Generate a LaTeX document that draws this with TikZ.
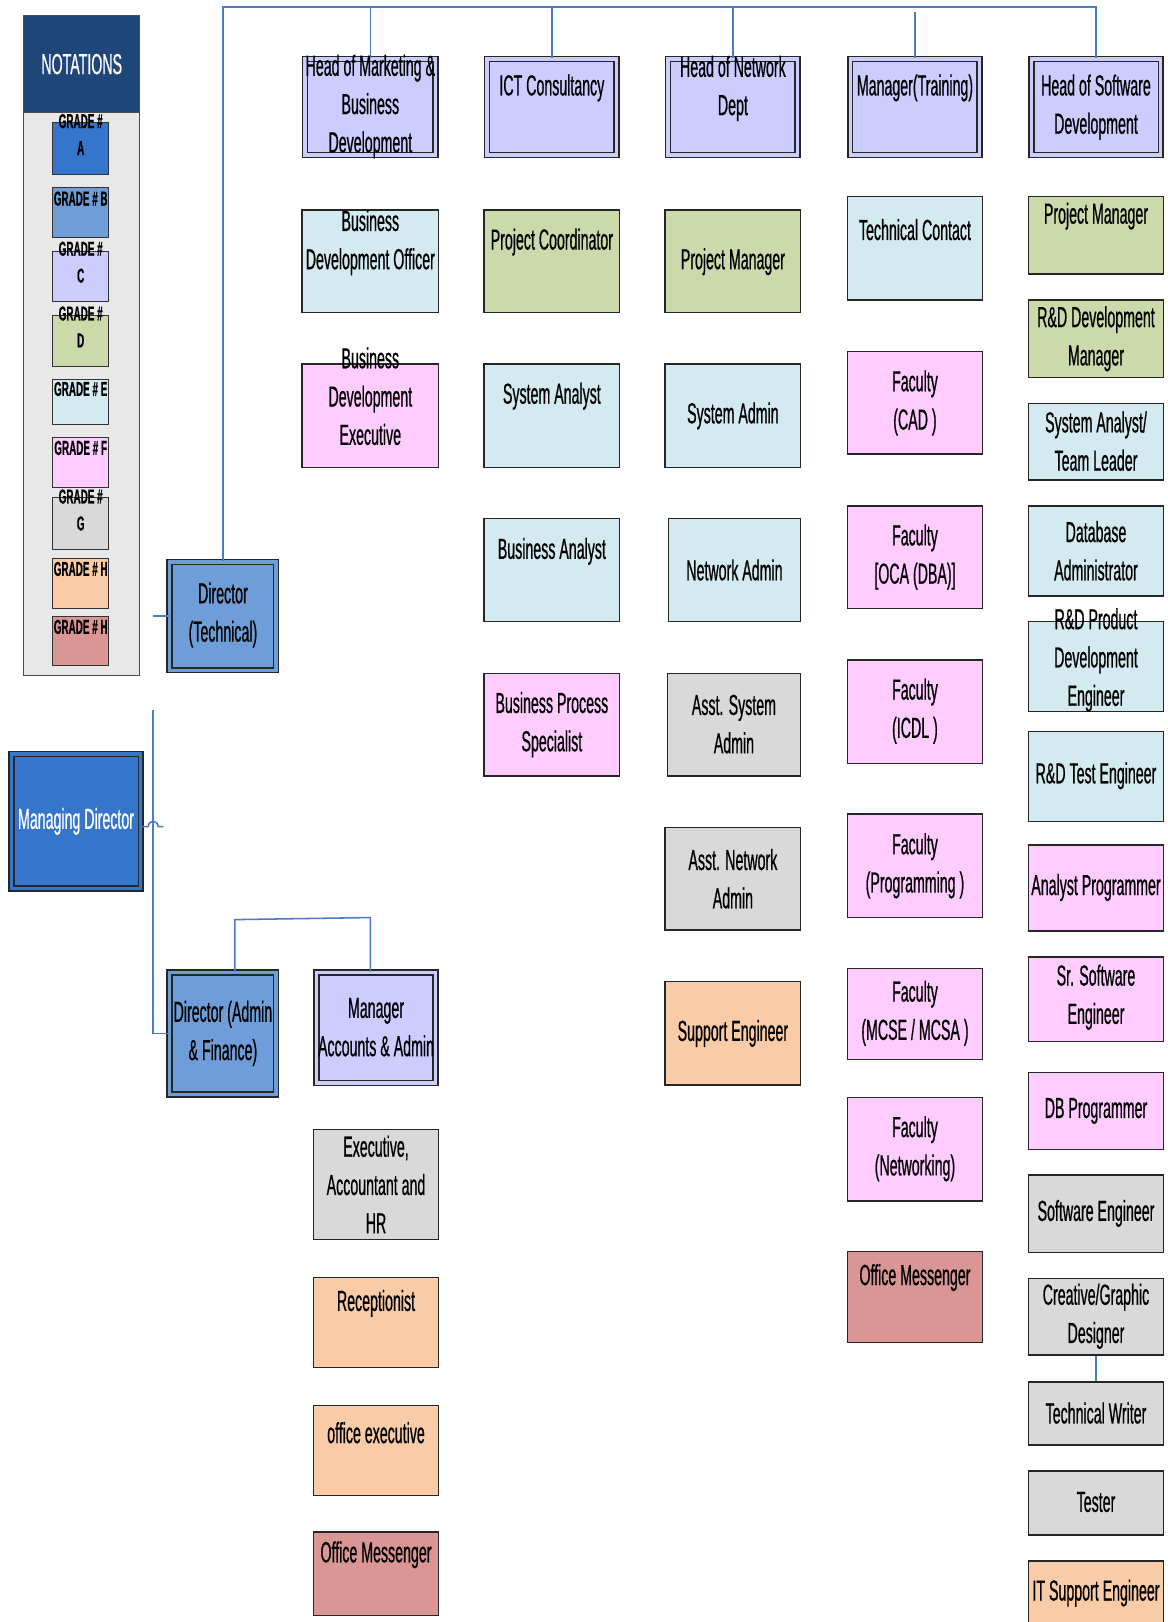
\documentclass[tikz,border=0pt]{standalone}
\usepackage{fontspec}
\newfontfamily\narrowfont[FakeStretch=0.49,FakeBold=0.6]{Liberation Sans}
\newcommand\nf{\narrowfont\fontsize{28}{37}\selectfont}
\newcommand\gf{\narrowfont\bfseries\fontsize{19.5}{26}\selectfont}
\definecolor{gA}{HTML}{3575CC}
\definecolor{gB}{HTML}{6F9DD8}
\definecolor{gC}{HTML}{CCCCFF}
\definecolor{gD}{HTML}{CCD9AA}
\definecolor{gE}{HTML}{D2EAF0}
\definecolor{gF}{HTML}{FFCCFF}
\definecolor{gG}{HTML}{D9D9D9}
\definecolor{gH}{HTML}{F9CBA6}
\definecolor{gHH}{HTML}{D99694}
\definecolor{navy}{HTML}{1F4679}
\definecolor{panelgray}{HTML}{E8E8E8}
\definecolor{lineblue}{HTML}{4A7CC8}
\def\bxshrink{0pt}
\tikzset{
  box/.style={rectangle, draw=black!85, line width=1.3pt, inner sep=0pt},
  dblc/.style={double=#1, double distance=3.5pt, line width=1.3pt, /utils/exec={\def\bxshrink{6pt}}},
  txt/.style={font=\nf, align=center, inner sep=0pt},
  gtxt/.style={font=\gf, align=center, inner sep=0pt},
  gbox/.style={rectangle, draw=black!80, line width=1pt, inner sep=0pt},
  conn/.style={draw=lineblue, line width=1.5pt}
}
% #1 extra, #2 name, #3 fill, #4 x1, #5 y1, #6 x2, #7 y2, #8 text y, #9 text
\newcommand\bx[9][]{%
  \node[box,fill=#3,#1,minimum width={(#6-#4)*1pt-\bxshrink},minimum height={(#7-#5)*1pt-\bxshrink}] (#2) at ({(#4+#6)/2},{(#5+#7)/2}) {};
  \node[txt] (#2t) at ({(#4+#6)/2},#8) {#9};}
% grade box: #1 name, #2 fill, #3 y1, #4 y2, #5 text y, #6 text
\newcommand\gbx[6]{%
  \node[gbox,fill=#2,minimum width=54pt,minimum height={(#4-#3)*1pt}] (#1) at (78,{(#3+#4)/2}) {};
  \node[gtxt] (#1t) at (78,#5) {#6};}
\begin{document}
\begin{tikzpicture}[x=1pt,y=-1pt]
\useasboundingbox[fill=white] (0,0) rectangle (1129,1568);

% ---------- notations panel ----------
\node[rectangle, draw=black!70, line width=1pt, fill=panelgray, minimum width=112pt, minimum height=638pt, inner sep=0pt] (notpanel) at (79,334) {};
\node[rectangle, draw=black!70, line width=1pt, fill=navy, minimum width=112pt, minimum height=94pt, inner sep=0pt] (nothead) at (79,62) {};
\node[txt, text=white] (nottext) at (79,62) {NOTATIONS};
\gbx{gradeA}{gA}{118}{169}{130}{GRADE \#\\A}
\gbx{gradeB}{gB}{181}{230}{192}{GRADE \# B}
\gbx{gradeC}{gC}{243}{291}{253.5}{GRADE \#\\C}
\gbx{gradeD}{gD}{305}{354}{316}{GRADE \#\\D}
\gbx{gradeE}{gE}{367}{410}{376}{GRADE \# E}
\gbx{gradeF}{gF}{423}{471}{433}{GRADE \# F}
\gbx{gradeG}{gG}{481}{531}{493}{GRADE \#\\G}
\gbx{gradeH}{gH}{540}{588}{550}{GRADE \# H}
\gbx{gradeHH}{gHH}{596}{643}{606}{GRADE \# H}

% ---------- directors ----------
\bx[dblc=gB]{DT}{gB}{161}{540}{270}{651}{594.5}{Director\\(Technical)}
\node[box,fill=gA,dblc=gA,minimum width=125pt,minimum height=130pt] (MD) at (73.5,794) {};
\node[txt,text=white] (MDt) at (73.5,794) {Managing Director};
\bx[dblc=gB]{DA}{gB}{161}{937}{270}{1061}{999}{Director (Admin\\\& Finance)}
\bx[dblc=gC]{MA}{gC}{303}{937}{424}{1050}{993}{Manager\\Accounts \& Admin}
\bx{EAH}{gG}{303}{1092}{424}{1198}{1145}{Executive,\\Accountant and\\HR}
\bx{REC}{gH}{303}{1235}{424}{1322}{1260}{Receptionist}
\bx{OE}{gH}{303}{1359}{424}{1446}{1385}{office executive}
\bx{OMa}{gHH}{303}{1481}{424}{1562}{1503}{Office Messenger}

% ---------- column 1 ----------
\bx[dblc=gC]{HM}{gC}{292}{54}{424}{153}{103}{Head of Marketing \&\\Business\\Development}
\bx{BDO}{gE}{292}{203}{424}{302}{234.5}{Business\\Development Officer}
\bx{BDE}{gF}{292}{352}{424}{452}{383}{Business\\Development\\Executive}

% ---------- column 2 ----------
\bx[dblc=gC]{ICT}{gC}{468}{54}{599}{153}{85}{ICT Consultancy}
\bx{PC}{gD}{468}{203}{599}{302}{234}{Project Coordinator}
\bx{SA}{gE}{468}{352}{599}{452}{383}{System Analyst}
\bx{BA}{gE}{468}{501}{599}{601}{533}{Business Analyst}
\bx{BPS}{gF}{468}{651}{599}{750}{700.5}{Business Process\\Specialist}

% ---------- column 3 ----------
\bx[dblc=gC]{HND}{gC}{643}{54}{774}{153}{85.5}{Head of Network\\Dept}
\bx{PMc}{gD}{643}{203}{774}{302}{253}{Project Manager}
\bx{SAd}{gE}{643}{352}{774}{452}{402}{System Admin}
\bx{NA}{gE}{646}{501}{774}{601}{551}{Network Admin}
\bx{ASA}{gG}{645}{651}{774}{750}{700}{Asst. System\\Admin}
\bx{ANA}{gG}{643}{800}{774}{899}{849.5}{Asst. Network\\Admin}
\bx{SE}{gH}{643}{949}{774}{1049}{999}{Support Engineer}

% ---------- column 4 ----------
\bx[dblc=gC]{MT}{gC}{819}{54}{950}{153}{85}{Manager(Training)}
\bx{TC}{gE}{819}{190}{950}{290}{222}{Technical Contact}
\bx{FCAD}{gF}{819}{340}{950}{439}{389.5}{Faculty\\(CAD )}
\bx{FOCA}{gF}{819}{489}{950}{588}{538.5}{Faculty\\{}[OCA (DBA)]}
\bx{FICDL}{gF}{819}{638}{950}{738}{687.5}{Faculty\\(ICDL )}
\bx{FPROG}{gF}{819}{787}{950}{887}{837}{Faculty\\(Programming )}
\bx{FMCSE}{gF}{819}{936}{950}{1024}{979.5}{Faculty\\(MCSE / MCSA )}
\bx{FNET}{gF}{819}{1061}{950}{1161}{1110.5}{Faculty\\(Networking)}
\bx{OMb}{gHH}{819}{1210}{950}{1298}{1235}{Office Messenger}

% ---------- column 5 ----------
\bx[dblc=gC]{HSD}{gC}{994}{54}{1125}{153}{103.5}{Head of Software\\Development}
\bx{PMe}{gD}{994}{190}{1125}{265}{209}{Project Manager}
\bx{RDM}{gD}{994}{290}{1125}{365}{327.5}{R\&D Development\\Manager}
\bx{SATL}{gE}{994}{390}{1125}{464}{426.5}{System Analyst/\\Team Leader}
\bx{DBA}{gE}{994}{489}{1125}{576}{532.5}{Database\\Administrator}
\bx{RDP}{gE}{994}{601}{1125}{688}{638}{R\&D Product\\Development\\Engineer}
\bx{RDT}{gE}{994}{707}{1125}{794}{750}{R\&D Test Engineer}
\bx{AP}{gF}{994}{817}{1125}{900}{858}{Analyst Programmer}
\bx{SSE}{gF}{994}{925}{1125}{1007}{964}{Sr. Software\\Engineer}
\bx{DBP}{gF}{994}{1037}{1125}{1111}{1074}{DB Programmer}
\bx{SWE}{gG}{994}{1136}{1125}{1211}{1173}{Software Engineer}
\bx{CGD}{gG}{994}{1236}{1125}{1310}{1272.5}{Creative/Graphic\\Designer}
\bx{TW}{gG}{994}{1336}{1125}{1397}{1366}{Technical Writer}
\bx{TS}{gG}{994}{1422}{1125}{1484}{1452}{Tester}
\bx{ITS}{gH}{994}{1509}{1125}{1585}{1540}{IT Support Engineer}

% ---------- connectors ----------
\coordinate (topy) at (0,7);
\coordinate (vx) at (148,0);
\coordinate (vtop) at (148,686);
\coordinate (hopstart) at (143,799);
\coordinate (mdend) at (158,799);
\coordinate (adl) at (227,889);
\coordinate (adr) at (358,887);

\draw[conn] (DT.north) -- (DT.north |- topy) -- (HSD.north |- topy) -- (HSD.north);
\draw[conn] (HM.north |- topy) -- (HM.north);
\draw[conn] (ICT.north |- topy) -- (ICT.north);
\draw[conn] (HND.north |- topy) -- (HND.north);
\draw[conn] ([yshift=-5pt]MT.north |- topy) -- (MT.north);

\draw[conn] (DT.west) -- (DT.west -| vx);
\draw[conn] (vtop) -- (vtop |- DA.west) -- (DA.west);
\draw[conn] (MD.east |- hopstart) -- (hopstart) arc[start angle=180,end angle=0,radius=5pt] -- (mdend);

\draw[conn] (adl |- DA.north) -- (adl) -- (adr) -- (adr |- MA.north);
\draw[conn] (CGD.south) -- (TW.north);
\end{tikzpicture}
\end{document}
